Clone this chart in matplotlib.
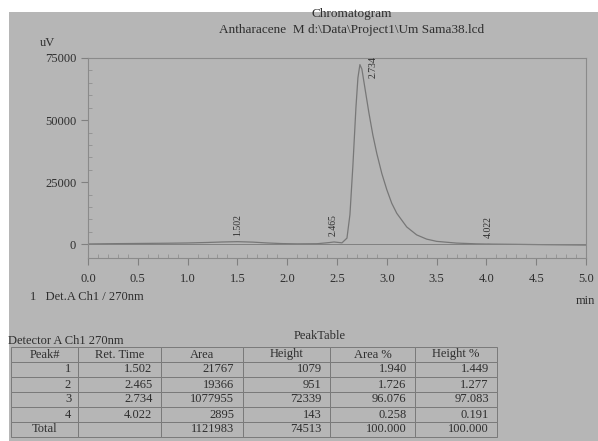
import numpy as np
import matplotlib.pyplot as plt
from matplotlib.patches import Rectangle

plt.rcParams['font.family'] = ['Liberation Serif', 'DejaVu Serif']

# trace points (time in min, signal in uV)
t = [0.00, 0.20, 0.50, 0.80, 1.00, 1.20, 1.35, 1.50, 1.65, 1.80, 1.95, 2.10,
     2.30, 2.42, 2.47, 2.55, 2.60, 2.63, 2.66, 2.69, 2.71, 2.73, 2.75, 2.78,
     2.82, 2.86, 2.90, 2.95, 3.00, 3.05, 3.10, 3.20, 3.30, 3.40, 3.50, 3.70,
     3.90, 4.00, 4.02, 4.05, 4.30, 4.60, 5.00]
signal = [150, 250, 350, 450, 550, 750, 950, 1079, 900, 550, 300, 200,
          250, 700, 951, 600, 2500, 12000, 32000, 55000, 67000, 72339, 70500, 63000,
          53000, 44000, 36500, 28500, 22000, 16500, 12500, 7000, 3800, 2100, 1200, 500,
          200, 120, 143, 100, 0, -150, -300]

peak_times = [1.502, 2.465, 2.734, 4.022]
peak_heights = [1079, 951, 72339, 143]

columns = ['Peak#', 'Ret. Time', 'Area', 'Height', 'Area %', 'Height %']
rows = [
    ['1', '1.502', '21767', '1079', '1.940', '1.449'],
    ['2', '2.465', '19366', '951', '1.726', '1.277'],
    ['3', '2.734', '1077955', '72339', '96.076', '97.083'],
    ['4', '4.022', '2895', '143', '0.258', '0.191'],
    ['Total', '', '1121983', '74513', '100.000', '100.000'],
]

bg = '#b6b6b6'
ink = '#2e2e2e'

fig = plt.figure(figsize=(5.98, 4.41), dpi=100)
fig.patch.set_facecolor(bg)
# white paper edges at top and left
fig.add_artist(Rectangle((0, 1 - 12 / 441), 1, 12 / 441, transform=fig.transFigure,
                         facecolor='white', edgecolor='none'))
fig.add_artist(Rectangle((0, 0), 9 / 598, 1, transform=fig.transFigure,
                         facecolor='white', edgecolor='none'))

ax = fig.add_axes([88 / 598, 183 / 441, 498 / 598, 200 / 441])
ax.set_facecolor(bg)
ax.plot(t, signal, color='#777777', lw=0.9)
ax.axhline(0, color='#808080', lw=0.7)

ax.set_xlim(0, 5)
ax.set_ylim(-5500, 75000)
ax.set_xticks(np.arange(0, 5.01, 0.5))
ax.set_xticks(np.arange(0, 5.01, 0.1), minor=True)
ax.set_yticks([0, 25000, 50000, 75000])
ax.set_yticks(np.arange(0, 75001, 5000), minor=True)
ax.set_xticklabels(['%.1f' % v for v in np.arange(0, 5.01, 0.5)])
ax.tick_params(axis='both', which='major', labelsize=9, colors='#808080',
               labelcolor=ink, length=5, direction='out')
ax.tick_params(axis='both', which='minor', colors='#909090', length=3, direction='in')
ax.tick_params(axis='x', pad=6)
for s in ax.spines.values():
    s.set_color('#8a8a8a')
    s.set_linewidth(0.8)

for pt, ph in zip(peak_times, peak_heights):
    if ph > 60000:
        # label of the tall peak sits beside the apex, inside the frame
        ax.annotate('%.3f' % pt, (pt, ph), xytext=(9, 6), textcoords='offset points',
                    rotation=90, ha='center', va='top', fontsize=7, color=ink)
    else:
        ax.annotate('%.3f' % pt, (pt, ph), xytext=(0, 4), textcoords='offset points',
                    rotation=90, ha='center', va='bottom', fontsize=7, color=ink)

fig.text(40 / 598, 1 - 46 / 441, 'uV', fontsize=9, color=ink)
fig.text(585 / 598, 1 - 304 / 441, 'min', fontsize=9, color=ink, ha='center')
fig.text(352 / 598, 1 - 17 / 441, 'Chromatogram', fontsize=9.5, color=ink, ha='center')
fig.text(352 / 598, 1 - 33 / 441, 'Antharacene  M d:\\Data\\Project1\\Um Sama38.lcd',
         fontsize=9.5, color=ink, ha='center')
fig.text(30 / 598, 1 - 300 / 441, '1   Det.A Ch1 / 270nm', fontsize=9, color=ink)

fig.text(8 / 598, 1 - 344 / 441, 'Detector A Ch1 270nm', fontsize=9, color=ink)
fig.text(320 / 598, 1 - 339 / 441, 'PeakTable', fontsize=9, color=ink, ha='center')

tax = fig.add_axes([11 / 598, 4 / 441, 486 / 598, 90 / 441])
tax.axis('off')
tbl = tax.table(cellText=rows, colLabels=columns, loc='center', cellLoc='right',
                colWidths=[67, 83, 82, 88, 85, 82], bbox=[0, 0, 1, 1])
tbl.auto_set_font_size(False)
tbl.set_fontsize(9)
for (r, c), cell in tbl.get_celld().items():
    cell.set_facecolor(bg)
    cell.set_edgecolor('#7a7a7a')
    cell.set_linewidth(0.7)
    cell.get_text().set_color(ink)
    if r == 0 or (r == len(rows) and c == 0):
        cell.get_text().set_ha('center')
        cell._loc = 'center'

fig.savefig('out.png', dpi=100, facecolor=bg)
